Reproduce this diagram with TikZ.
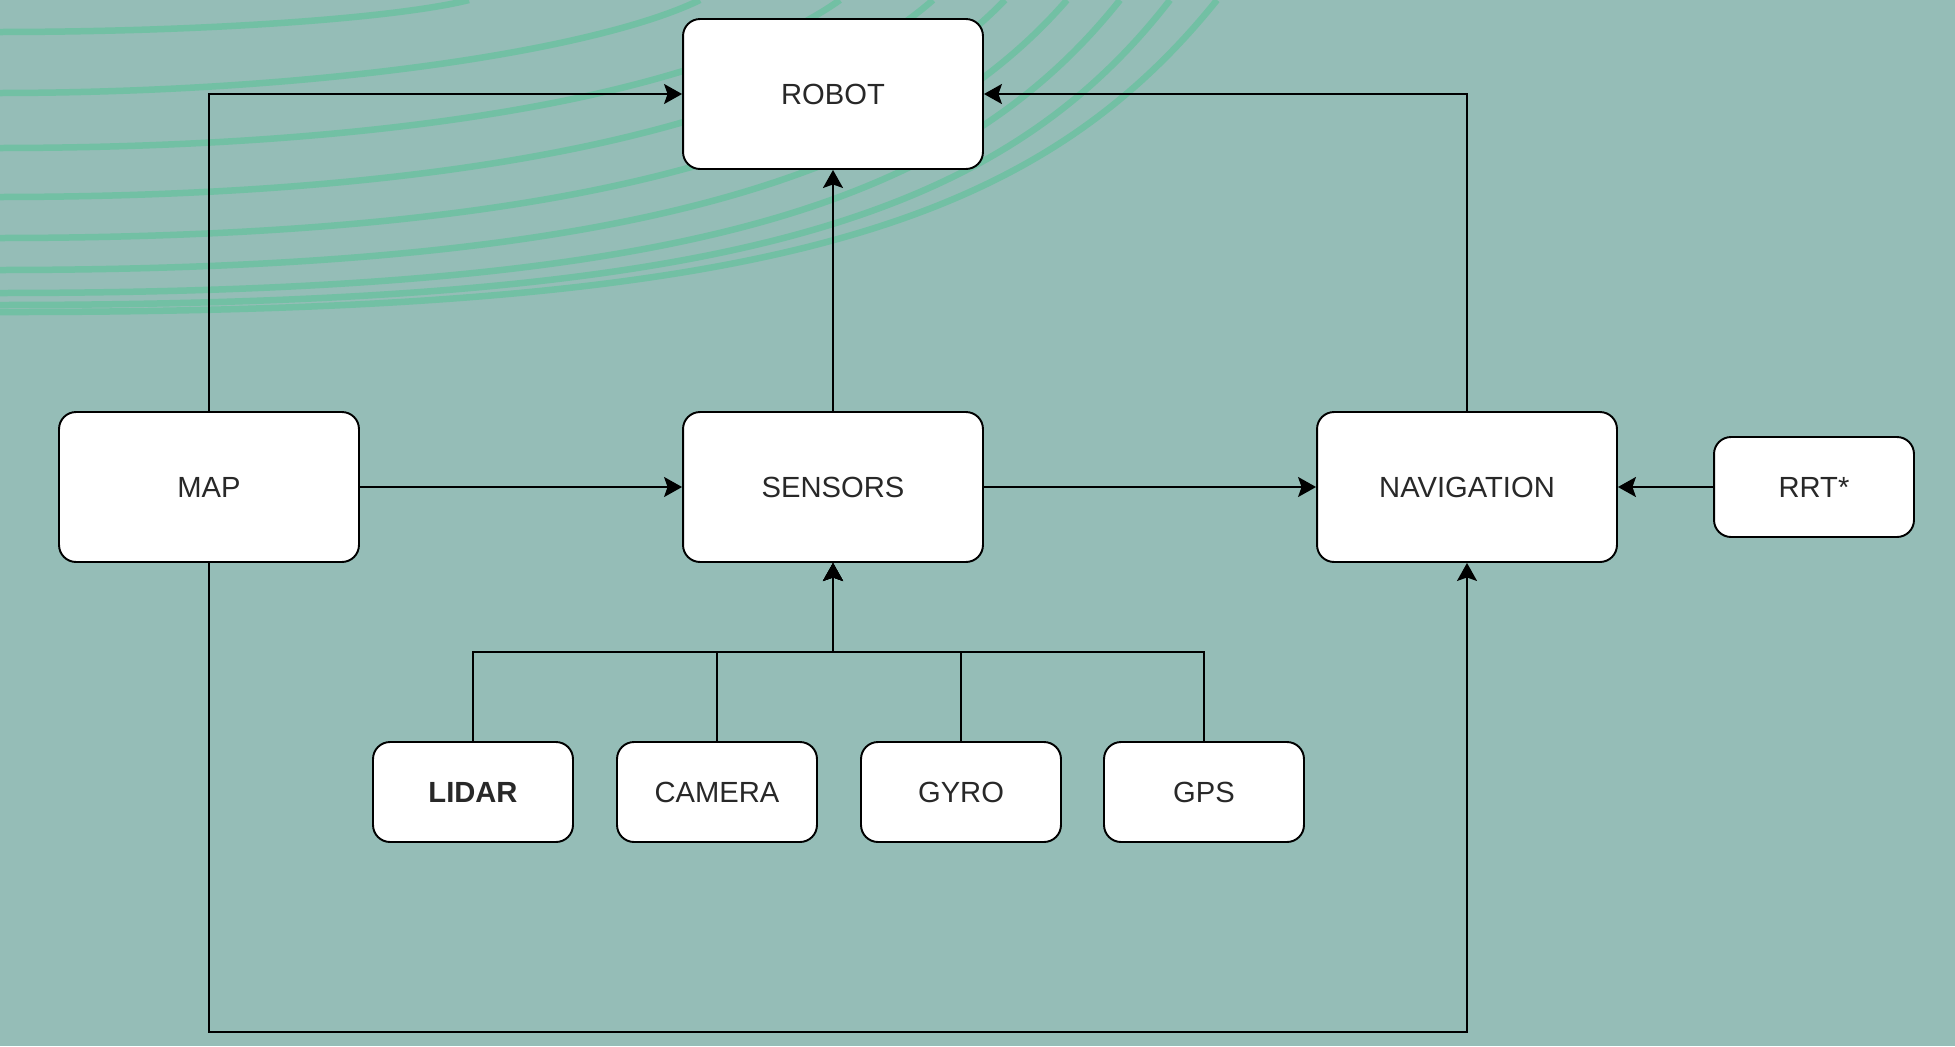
\documentclass[tikz,border=0pt]{standalone}
\usepackage{fontspec}
\setmainfont{Liberation Sans}
\usetikzlibrary{arrows.meta}
\definecolor{bgc}{RGB}{149,189,183}
\definecolor{arcc}{RGB}{114,192,164}
\definecolor{txtc}{RGB}{40,40,40}
\tikzset{
  box/.style={draw=black, line width=1.1pt, fill=white, rounded corners=0.34cm,
    minimum width=6cm, minimum height=3cm, inner sep=0pt, text=txtc,
    font=\fontsize{16.6}{20}\selectfont},
  smallbox/.style={box, minimum width=4cm, minimum height=2cm},
  conn/.style={draw=black, line width=1.1pt, -{Stealth[length=0.36cm, width=0.4cm, inset=0.07cm]}},
  bgarc/.style={draw=arcc, line width=0.13cm}
}
\begin{document}
\begin{tikzpicture}[x=0.02cm, y=-0.02cm]
\useasboundingbox (0,0) rectangle (1955,1046);
\fill[bgc] (0,0) rectangle (1955,1046);
\begin{scope}
\clip (0,0) rectangle (1955,1046);
\draw[bgarc] (-5,32) .. controls (211,32) and (399,17.6) .. (469,0);
\draw[bgarc] (-5,93) .. controls (315,93) and (595,51) .. (700,0);
\draw[bgarc] (-5,148) .. controls (420,148) and (714,89) .. (840,0);
\draw[bgarc] (-5,197) .. controls (485,197) and (793,122) .. (933,0);
\draw[bgarc] (-5,238) .. controls (553,238) and (854,155) .. (1005,0);
\draw[bgarc] (-5,270) .. controls (608,270) and (907,184) .. (1067,0);
\draw[bgarc] (-5,293) .. controls (672,293) and (952,211) .. (1120,0);
\draw[bgarc] (-5,305) .. controls (714,305) and (995,226) .. (1170,0);
\draw[bgarc] (-5,312) .. controls (750,313) and (1029,234) .. (1217,0);
\end{scope}

\node[box] (robot) at (833,94) {ROBOT};
\node[box] (map) at (209,487) {MAP};
\node[box] (sensors) at (833,487) {SENSORS};
\node[box] (nav) at (1467,487) {NAVIGATION};
\node[smallbox] (rrt) at (1814,487) {RRT*};
\node[smallbox, font=\fontsize{16.6}{20}\selectfont\bfseries] (lidar) at (473,792) {LIDAR};
\node[smallbox] (camera) at (717,792) {CAMERA};
\node[smallbox] (gyro) at (961,792) {GYRO};
\node[smallbox] (gps) at (1204,792) {GPS};

\coordinate (busy) at (0,652);
\coordinate (bottomy) at (0,1032);

\draw[conn] (map.north) |- (robot.west);
\draw[conn] (nav.north) |- (robot.east);
\draw[conn] (sensors.north) -- (robot.south);
\draw[conn] (map.east) -- (sensors.west);
\draw[conn] (sensors.east) -- (nav.west);
\draw[conn] (rrt.west) -- (nav.east);
\draw[conn] (map.south) -- (map.south |- bottomy) -- (nav.south |- bottomy) -- (nav.south);
\draw[conn] (lidar.north) -- (lidar.north |- busy) -- (sensors.south |- busy) -- (sensors.south);
\draw[conn] (camera.north) -- (camera.north |- busy) -- (sensors.south |- busy) -- (sensors.south);
\draw[conn] (gyro.north) -- (gyro.north |- busy) -- (sensors.south |- busy) -- (sensors.south);
\draw[conn] (gps.north) -- (gps.north |- busy) -- (sensors.south |- busy) -- (sensors.south);
\end{tikzpicture}
\end{document}
